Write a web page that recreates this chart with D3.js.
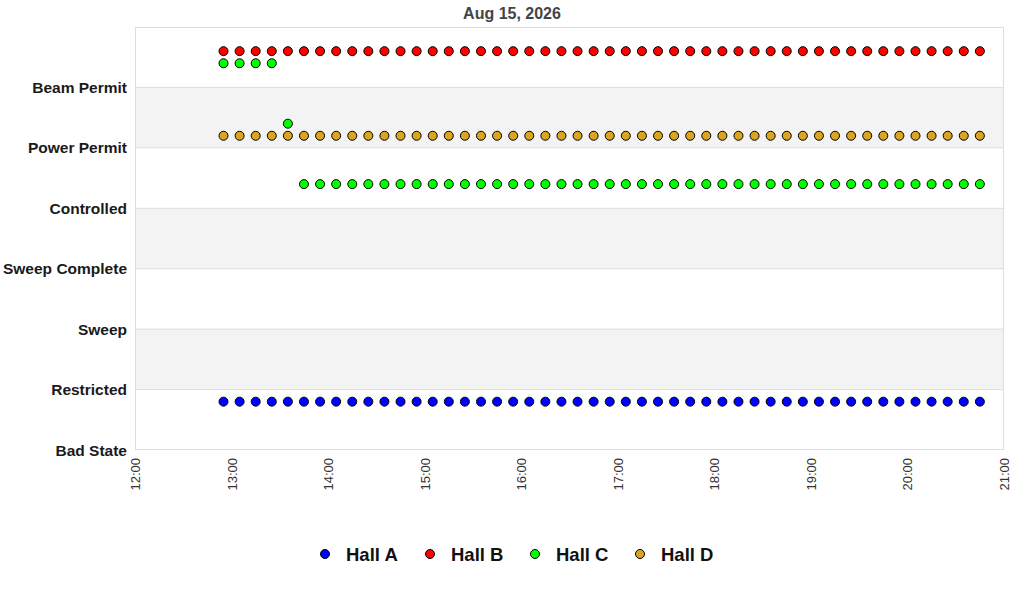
<!DOCTYPE html>
<html><head><meta charset="utf-8">
<script src="https://cdn.jsdelivr.net/npm/d3@7"></script>
<style>body{margin:0;background:#fff;font-family:"Liberation Sans",Arial,sans-serif}</style>
</head><body><svg id="c" width="1024" height="600"></svg>
<script>
const title = "Aug 15, 2026";
const stateLabels = ["Bad State","Restricted","Sweep","Sweep Complete","Controlled","Power Permit","Beam Permit"];
const xTicks = ["12:00","13:00","14:00","15:00","16:00","17:00","18:00","19:00","20:00","21:00"];
const times = ["12:55","13:05","13:15","13:25","13:35","13:45","13:55","14:05","14:15","14:25","14:35","14:45",
"14:55","15:05","15:15","15:25","15:35","15:45","15:55","16:05","16:15","16:25","16:35","16:45",
"16:55","17:05","17:15","17:25","17:35","17:45","17:55","18:05","18:15","18:25","18:35","18:45",
"18:55","19:05","19:15","19:25","19:35","19:45","19:55","20:05","20:15","20:25","20:35","20:45"];
const halls = ["Hall A","Hall B","Hall C","Hall D"];
const hallColors = ["#0000ff","#ff0000","#00ff00","#daa520"];
const hallOffsets = [0.8,0.6,0.4,0.2];
const hallA = [0,0,0,0,0,0,0,0,0,0,0,0, 0,0,0,0,0,0,0,0,0,0,0,0, 0,0,0,0,0,0,0,0,0,0,0,0, 0,0,0,0,0,0,0,0,0,0,0,0];
const hallB = [6,6,6,6,6,6,6,6,6,6,6,6, 6,6,6,6,6,6,6,6,6,6,6,6, 6,6,6,6,6,6,6,6,6,6,6,6, 6,6,6,6,6,6,6,6,6,6,6,6];
const hallC = [6,6,6,6,5,4,4,4,4,4,4,4, 4,4,4,4,4,4,4,4,4,4,4,4, 4,4,4,4,4,4,4,4,4,4,4,4, 4,4,4,4,4,4,4,4,4,4,4,4];
const hallD = [5,5,5,5,5,5,5,5,5,5,5,5, 5,5,5,5,5,5,5,5,5,5,5,5, 5,5,5,5,5,5,5,5,5,5,5,5, 5,5,5,5,5,5,5,5,5,5,5,5];
const hallValues = [hallA,hallB,hallC,hallD];

const svg = d3.select("#c");
const L=135,R=1004,T=27,B=450;
const parse = d3.timeParse("%Y-%m-%d %H:%M");
const tp = s => parse("2026-08-15 "+s);
const x = d3.scaleTime().domain([tp(xTicks[0]), tp(xTicks[xTicks.length-1])]).range([L,R]);
const y = d3.scaleLinear().domain([0, stateLabels.length]).range([B,T]);

// bands
const g = svg.append("g");
g.selectAll("rect.band").data([1,3,5]).join("rect")
 .attr("x",L).attr("width",R-L).attr("y",d=>y(d+1)).attr("height",d=>y(d)-y(d+1)).attr("fill","#f3f3f3");
g.selectAll("line.grid").data(d3.range(1,stateLabels.length)).join("line")
 .attr("x1",L).attr("x2",R).attr("y1",d=>y(d)).attr("y2",d=>y(d)).attr("stroke","#dddddd");
g.append("rect").attr("x",L+0.5).attr("y",T+0.5).attr("width",R-L-1).attr("height",B-T-1)
 .attr("fill","none").attr("stroke","#dddddd");

// y labels
svg.selectAll("text.yl").data(stateLabels).join("text")
 .attr("x",127).attr("y",(d,i)=>y(i)+5.5).attr("text-anchor","end")
 .attr("font-size",15.5).attr("font-weight","bold").attr("fill","#1a1a1a").text(d=>d);

// x ticks
svg.selectAll("text.xl").data(xTicks).join("text")
 .attr("transform",d=>`translate(${x(tp(d))+5},458) rotate(-90)`).attr("text-anchor","end")
 .attr("font-size",13).attr("fill","#333").text(d=>d);

// title
svg.append("text").attr("x",512).attr("y",18.5).attr("text-anchor","middle")
 .attr("font-size",16).attr("font-weight","bold").attr("fill","#444").text(title);

// points
halls.forEach((h,hi)=>{
  svg.append("g").selectAll("circle").data(hallValues[hi]).join("circle")
   .attr("cx",(d,i)=>x(tp(times[i]))).attr("cy",d=>y(d+hallOffsets[hi]))
   .attr("r",4.5).attr("fill",hallColors[hi]).attr("stroke","#000").attr("stroke-width",1);
});

// legend
const lg = svg.append("g");
halls.forEach((h,i)=>{
  const lx = 325 + i*105;
  lg.append("circle").attr("cx",lx).attr("cy",554).attr("r",4.5).attr("fill",hallColors[i]).attr("stroke","#000");
  lg.append("text").attr("x",lx+21).attr("y",560.5).attr("font-size",18.5).attr("font-weight","bold").attr("fill","#111").text(h);
});
</script></body></html>
